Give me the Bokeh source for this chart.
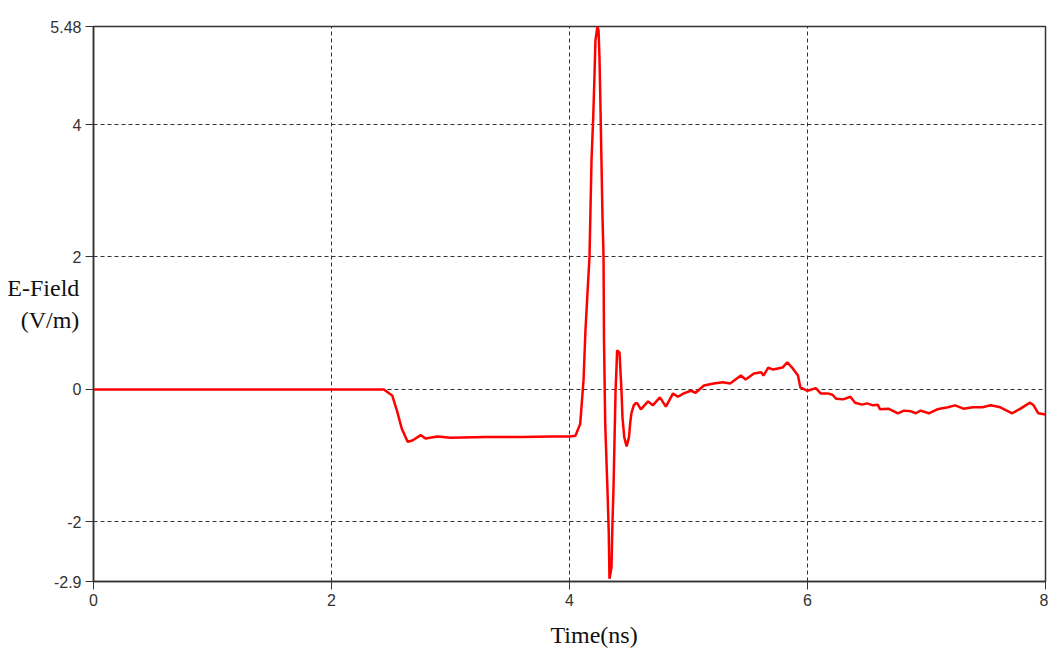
from bokeh.plotting import figure
from bokeh.models import FixedTicker, Range1d, Title
from bokeh.embed import file_html
from bokeh.resources import INLINE

# ---- data ----
time_ns = [0.0, 2.30, 2.44, 2.51, 2.55, 2.59, 2.64, 2.68, 2.75, 2.79, 2.89, 3.0, 3.3, 3.6, 3.85, 4.0,
           4.05, 4.09, 4.118, 4.134, 4.15, 4.168, 4.185, 4.20, 4.21, 4.218, 4.235,
           4.244, 4.252, 4.26, 4.27, 4.277, 4.286, 4.29, 4.30, 4.32, 4.33, 4.336,
           4.353, 4.36, 4.37, 4.38, 4.387, 4.395, 4.40, 4.42, 4.437, 4.445, 4.46, 4.48,
           4.50, 4.51, 4.52, 4.54, 4.555, 4.57, 4.60, 4.66, 4.70, 4.76, 4.81, 4.87, 4.91,
           4.96, 5.02, 5.06, 5.13, 5.21, 5.29, 5.35, 5.44, 5.48, 5.55, 5.61, 5.63, 5.67,
           5.71, 5.79, 5.83, 5.87, 5.92, 5.94, 6.00, 6.07, 6.11, 6.17, 6.21, 6.24, 6.30,
           6.36, 6.40, 6.46, 6.50, 6.55, 6.59, 6.61, 6.68, 6.76, 6.81, 6.87, 6.91, 6.95,
           7.02, 7.09, 7.18, 7.24, 7.31, 7.39, 7.47, 7.54, 7.62, 7.72, 7.79, 7.87, 7.90,
           7.94, 8.0]
e_field = [0.0, 0.0, 0.0, -0.09, -0.32, -0.59, -0.79, -0.77, -0.69, -0.74, -0.71, -0.73, -0.72, -0.72, -0.71, -0.71,
           -0.70, -0.52, 0.14, 0.89, 1.42, 2.0, 3.46, 4.14, 4.74, 5.27, 5.48,
           5.42, 5.01, 4.29, 3.31, 2.63, 2.0, 0.74, -0.51, -1.57, -2.17, -2.86,
           -2.69, -2.08, -1.48, -0.62, -0.02, 0.33, 0.59, 0.56, -0.02, -0.42, -0.72, -0.86,
           -0.72, -0.51, -0.36, -0.24, -0.21, -0.21, -0.30, -0.18, -0.24, -0.12, -0.26, -0.06, -0.11,
           -0.06, -0.02, -0.05, 0.06, 0.09, 0.11, 0.09, 0.21, 0.15, 0.24, 0.26, 0.21, 0.33,
           0.30, 0.33, 0.41, 0.33, 0.21, 0.03, -0.02, 0.02, -0.06, -0.06, -0.08, -0.14, -0.15,
           -0.11, -0.20, -0.23, -0.21, -0.24, -0.23, -0.30, -0.29, -0.36, -0.32, -0.33, -0.36, -0.32,
           -0.36, -0.30, -0.27, -0.24, -0.29, -0.27, -0.27, -0.24, -0.27, -0.36, -0.29, -0.20, -0.24,
           -0.36, -0.38]

x_ticks = [0, 2, 4, 6, 8]
y_ticks = [-2.9, -2, 0, 2, 4, 5.48]
y_tick_labels = ["-2.9", "-2", "0", "2", "4", "5.48"]
x_grid = [2, 4, 6]
y_grid = [-2, 0, 2, 4]
x_title = "Time(ns)"
y_title = "E-Field\n(V/m)"

p = figure(width=1048, height=660, output_backend="svg", toolbar_location=None,
           x_range=Range1d(0, 8), y_range=Range1d(-2.9, 5.48),
           min_border_left=93, min_border_right=3, min_border_top=26, min_border_bottom=79)

p.background_fill_color = "white"
p.border_fill_color = "white"
p.outline_line_color = "#333333"
p.outline_line_width = 1.5

p.xaxis.ticker = FixedTicker(ticks=x_ticks)
p.yaxis.ticker = FixedTicker(ticks=y_ticks)
p.yaxis.major_label_overrides = {t: s for t, s in zip(y_ticks, y_tick_labels)}
for ax in (p.xaxis, p.yaxis):
    ax.major_tick_out = 8
    ax.major_tick_in = 0
    ax.minor_tick_out = 0
    ax.minor_tick_in = 0
    ax.major_tick_line_color = "#333333"
    ax.axis_line_color = "#333333"
    ax.axis_line_width = 1.5
    ax.major_label_text_font = "Liberation Sans"
    ax.major_label_text_font_size = "16px"
    ax.major_label_text_color = "#333333"
    ax.major_label_standoff = 4

p.yaxis.axis_label = y_title
p.yaxis.axis_label_orientation = "horizontal"
p.yaxis.axis_label_standoff = -32
p.yaxis.axis_label_text_font = "Liberation Serif"
p.yaxis.axis_label_text_font_size = "24px"
p.yaxis.axis_label_text_font_style = "normal"
p.yaxis.axis_label_text_color = "#111111"
p.yaxis.axis_label_text_align = "center"

p.add_layout(Title(text=x_title, align="left", offset=457, standoff=22,
                   text_font="Liberation Serif", text_font_size="24px",
                   text_font_style="normal", text_color="#111111"), "below")

p.xgrid.ticker = FixedTicker(ticks=x_grid)
p.ygrid.ticker = FixedTicker(ticks=y_grid)
for g in (p.xgrid, p.ygrid):
    g.grid_line_color = "#333333"
    g.grid_line_dash = "4 3"
    g.grid_line_width = 1

p.line(time_ns, e_field, line_color="#ff0000", line_width=2.5)

open("out.html", "w").write(file_html(p, INLINE))
